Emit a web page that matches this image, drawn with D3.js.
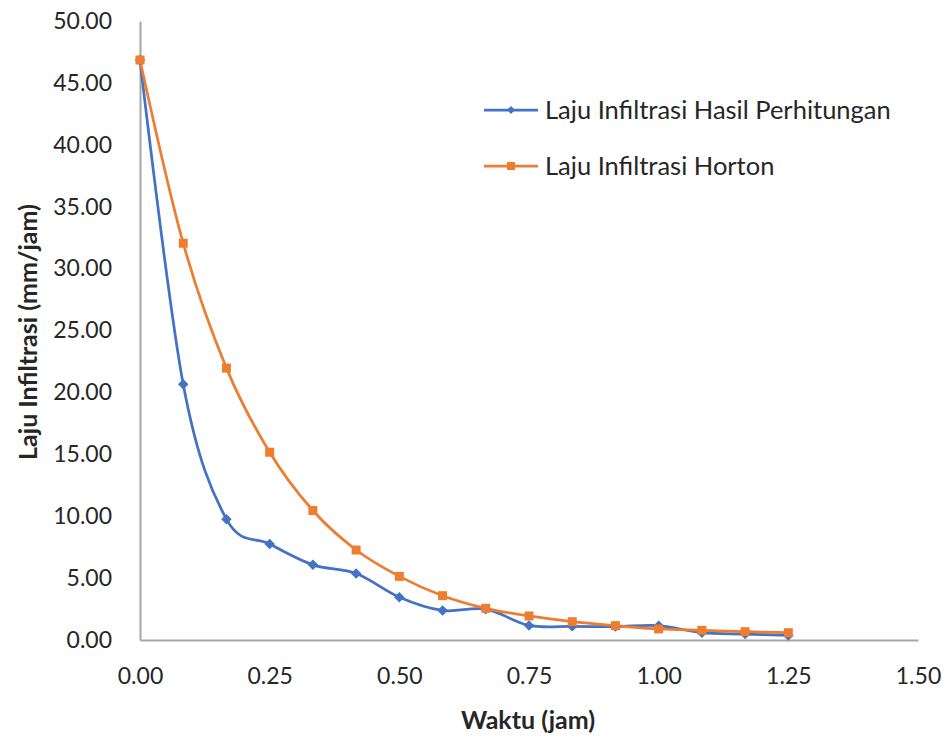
<!DOCTYPE html>
<html><head><meta charset="utf-8">
<script src="https://cdn.jsdelivr.net/npm/d3@7"></script>
<style>body{margin:0;background:#fff}svg{display:block}text{font-family:Lato,"Open Sans",sans-serif;fill:#262626}</style>
</head><body>
<script>
const timeJam = [0, 1/12, 2/12, 3/12, 4/12, 5/12, 6/12, 7/12, 8/12, 9/12, 10/12, 11/12, 12/12, 13/12, 14/12, 15/12];
const lajuHitung = [46.85, 20.66, 9.76, 7.75, 6.07, 5.37, 3.46, 2.39, 2.49, 1.18, 1.1, 1.08, 1.16, 0.59, 0.48, 0.37];
const lajuHorton = [46.85, 32.05, 21.96, 15.17, 10.46, 7.27, 5.14, 3.58, 2.56, 1.94, 1.48, 1.16, 0.89, 0.78, 0.67, 0.59];
const xTicks = [0, 0.25, 0.5, 0.75, 1.0, 1.25, 1.5];
const yTicks = [0, 5, 10, 15, 20, 25, 30, 35, 40, 45, 50];
const seriesNames = ["Laju Infiltrasi Hasil Perhitungan", "Laju Infiltrasi Horton"];
const seriesColors = ["#4472C4", "#ED7D31"];

const W = 947, H = 737;
const svg = d3.select("body").append("svg").attr("width", W).attr("height", H);
const x = d3.scaleLinear().domain([0, 1.5]).range([140, 918]);
const y = d3.scaleLinear().domain([0, 50]).range([640, 21]);

// axes
const xa = svg.append("g").attr("transform", "translate(0,640)")
  .call(d3.axisBottom(x).tickValues(xTicks).tickFormat(d3.format(".2f")).tickSize(0).tickPadding(28));
const ya = svg.append("g").attr("transform", "translate(140,0)")
  .call(d3.axisLeft(y).tickValues(yTicks).tickFormat(d3.format(".2f")).tickSize(0).tickPadding(28));
[xa, ya].forEach(a => {
  a.select(".domain").attr("stroke", "#A6A6A6").attr("stroke-width", 2);
  a.selectAll("text").style("font-size", "23px").attr("fill", "#262626");
});

svg.append("text").attr("x", 528).attr("y", 729).attr("text-anchor", "middle")
  .style("font-size", "25px").style("font-weight", "bold").text("Waktu (jam)");
svg.append("text").attr("transform", "translate(37,332) rotate(-90)").attr("text-anchor", "middle")
  .style("font-size", "25px").style("font-weight", "bold").text("Laju Infiltrasi (mm/jam)");

const data = [lajuHitung, lajuHorton];
const line = d3.line().x((d, i) => x(timeJam[i])).y(d => y(d)).curve(d3.curveCardinal.tension(0));

data.forEach((vals, k) => {
  svg.append("path").datum(vals).attr("d", line).attr("fill", "none")
    .attr("stroke", seriesColors[k]).attr("stroke-width", 2.75);
});
const diamond = d3.symbol().type(d3.symbolDiamond2).size(70);
svg.append("g").selectAll("path").data(lajuHitung).join("path")
  .attr("d", diamond).attr("fill", seriesColors[0])
  .attr("transform", (d, i) => `translate(${x(timeJam[i])},${y(d)})`);
svg.append("g").selectAll("rect").data(lajuHorton).join("rect")
  .attr("x", (d, i) => x(timeJam[i]) - 4.5).attr("y", d => y(d) - 4.5)
  .attr("width", 9).attr("height", 9).attr("fill", seriesColors[1]);

// legend
const lg = svg.append("g");
seriesNames.forEach((name, k) => {
  const ly = 110 + k * 56;
  lg.append("line").attr("x1", 484).attr("x2", 538).attr("y1", ly).attr("y2", ly)
    .attr("stroke", seriesColors[k]).attr("stroke-width", 2.75);
  if (k === 0) {
    lg.append("path").attr("d", d3.symbol().type(d3.symbolDiamond2).size(40)).attr("fill", seriesColors[k])
      .attr("transform", `translate(511,${ly})`);
  } else {
    lg.append("rect").attr("x", 507).attr("y", ly - 4).attr("width", 8).attr("height", 8).attr("fill", seriesColors[k]);
  }
  lg.append("text").attr("x", 545).attr("y", ly).attr("dy", "0.35em").style("font-size", "25.5px").text(name);
});
</script>
</body></html>
